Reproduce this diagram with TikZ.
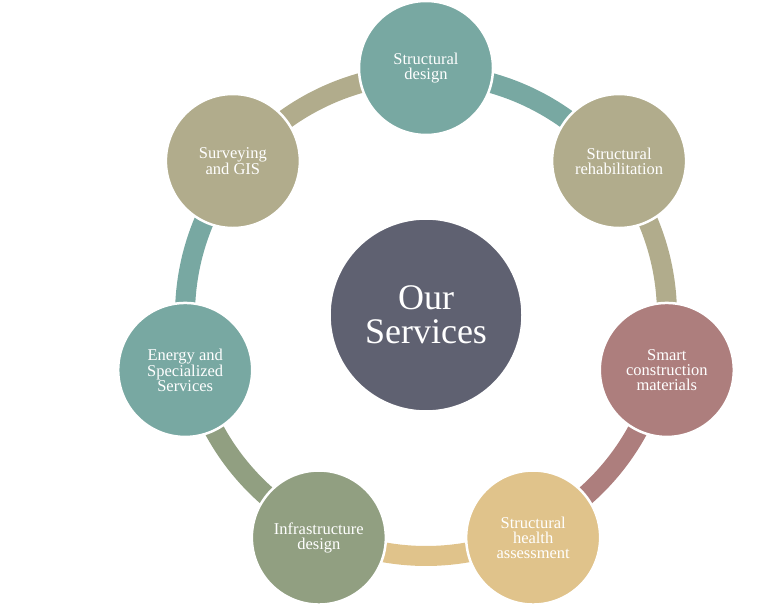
\documentclass[tikz,border=0pt]{standalone}
\usepackage{fontspec}
\setmainfont{Liberation Serif}
\usetikzlibrary{calc}
\definecolor{cteal}{RGB}{120,168,162}
\definecolor{ckhaki}{RGB}{177,172,140}
\definecolor{cmauve}{RGB}{173,126,125}
\definecolor{ctan}{RGB}{224,195,139}
\definecolor{cgreen}{RGB}{145,159,129}
\definecolor{ccenter}{RGB}{95,97,113}
\tikzset{
  svc/.style={circle, minimum size=134pt, inner sep=0pt, draw=white, line width=2.5pt,
    text=white, align=center, font=\fontsize{16.5}{15}\selectfont},
  hub/.style={circle, minimum size=193pt, inner sep=0pt, draw=white, line width=2.5pt,
    fill=ccenter, text=white, align=center, font=\fontsize{36}{34}\selectfont},
  ring/.style={line width=20pt}
}
\begin{document}
\begin{tikzpicture}[x=1pt,y=1pt]
\useasboundingbox (0,0) rectangle (768,611);
\coordinate (C) at (426,296);
% ring arcs
\draw[ring,cteal]  ($(C)+(90:241)$)      arc[start angle=90,      end angle=38.571,   radius=241];
\draw[ring,ckhaki] ($(C)+(38.571:241)$)  arc[start angle=38.571,  end angle=-12.857,  radius=241];
\draw[ring,cmauve] ($(C)+(-12.857:241)$) arc[start angle=-12.857, end angle=-64.286,  radius=241];
\draw[ring,ctan]   ($(C)+(-64.286:241)$) arc[start angle=-64.286, end angle=-115.714, radius=241];
\draw[ring,cgreen] ($(C)+(-115.714:241)$) arc[start angle=-115.714, end angle=-167.143, radius=241];
\draw[ring,cteal]  ($(C)+(-167.143:241)$) arc[start angle=-167.143, end angle=-218.571, radius=241];
\draw[ring,ckhaki] ($(C)+(141.429:241)$) arc[start angle=141.429, end angle=90, radius=241];
% nodes
\node[hub] (hub) at (C) {Our\\Services};
\node[svc,fill=cteal]  (s0) at ($(C)+(90:247)$) {Structural\\design};
\node[svc,fill=ckhaki] (s1) at ($(C)+(38.571:247)$) {Structural\\rehabilitation};
\node[svc,fill=cmauve] (s2) at ($(C)+(-12.857:247)$) {Smart\\construction\\materials};
\node[svc,fill=ctan]   (s3) at ($(C)+(-64.286:247)$) {Structural\\health\\assessment};
\node[svc,fill=cgreen] (s4) at ($(C)+(-115.714:247)$) {Infrastructure\\design};
\node[svc,fill=cteal]  (s5) at ($(C)+(-167.143:247)$) {Energy and\\Specialized\\Services};
\node[svc,fill=ckhaki] (s6) at ($(C)+(141.429:247)$) {Surveying\\and GIS};
\end{tikzpicture}
\end{document}
